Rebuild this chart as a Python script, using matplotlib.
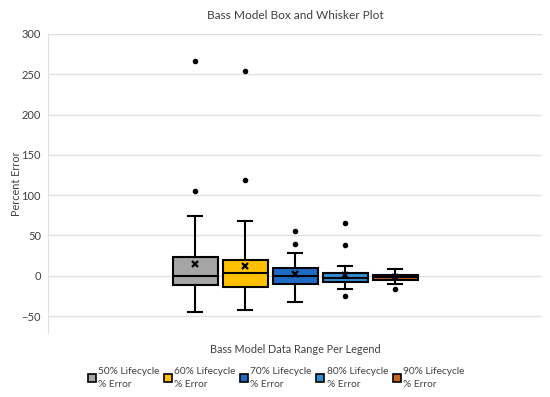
import matplotlib
matplotlib.use("Agg")
import matplotlib.pyplot as plt
from matplotlib.lines import Line2D

plt.rcParams['font.family'] = ['Lato', 'DejaVu Sans']

labels = ["50% Lifecycle\n% Error", "60% Lifecycle\n% Error", "70% Lifecycle\n% Error",
          "80% Lifecycle\n% Error", "90% Lifecycle\n% Error"]
whislo = [-45, -42.5, -33, -16.5, -10]
q1 = [-11.5, -13.6, -10, -8.2, -5.3]
med = [0, 3, -0.4, -2.5, -2]
q3 = [23.5, 19.4, 9.5, 3.7, 1]
whishi = [74.7, 67.7, 28, 11.6, 8.3]
means = [14, 12.4, 1.7, 0.9, -2]
fliers = [[266, 105], [254, 119], [56, 39], [66, 38, -25.5], [-16.5]]
colors = ["#A5A5A5", "#FFC000", "#1F6BC4", "#2E8FD4", "#C8651E"]
yticks = [-50, 0, 50, 100, 150, 200, 250, 300]

fig = plt.figure(figsize=(5.5, 3.97), dpi=100)
ax = fig.add_axes([48/550, 1-333/397, (542-48)/550, (333-34)/397])

stats = []
for i in range(len(labels)):
    stats.append(dict(whislo=whislo[i], q1=q1[i], med=med[i], q3=q3[i],
                      whishi=whishi[i], mean=means[i], fliers=fliers[i]))

pos = list(range(1, len(labels)+1))
bp = ax.bxp(stats, positions=pos, widths=0.9, patch_artist=True, showmeans=True,
            capwidths=0.27,
            boxprops=dict(linewidth=1.5, edgecolor='black'),
            medianprops=dict(color='black', linewidth=1.5),
            whiskerprops=dict(color='black', linewidth=1.5),
            capprops=dict(color='black', linewidth=1.5),
            meanprops=dict(marker='x', markeredgecolor='black', markersize=4.5, markeredgewidth=1.6),
            flierprops=dict(marker='o', markerfacecolor='black', markeredgecolor='black', markersize=3))
for patch, c in zip(bp['boxes'], colors):
    patch.set_facecolor(c)

ax.set_xlim(3-4.94, 3+4.94)
ax.set_ylim(-71, 300)
ax.set_yticks(yticks)
ax.set_xticks([])
ax.yaxis.grid(True, color='#E0E0E0', linewidth=1)
ax.set_axisbelow(True)
for s in ['top', 'right', 'bottom']:
    ax.spines[s].set_visible(False)
ax.spines['left'].set_color('#E0E0E0')
ax.tick_params(axis='y', length=0, labelsize=8, colors='#404040', pad=5)
ax.set_ylabel("Percent Error", fontsize=7.8, color='#404040')
ax.yaxis.set_label_coords(-0.053, 0.5)
ax.set_title("Bass Model Box and Whisker Plot", fontsize=8.6, color='#404040', pad=11)
ax.set_xlabel("Bass Model Data Range Per Legend", fontsize=7.8, color='#404040', labelpad=8)

handles = [Line2D([], [], marker='s', linestyle='none', markerfacecolor=c,
                  markeredgecolor='black', markersize=6, markeredgewidth=1.2) for c in colors]
leg = fig.legend(handles, labels, loc='center', bbox_to_anchor=(276/550, 1-378/397), ncol=5,
                 frameon=False, fontsize=7.3, handlelength=0.8, handletextpad=0.2, columnspacing=0.45,
                 labelcolor='#404040')
for t in leg.get_texts():
    t.set_linespacing(1.45)

fig.savefig("out.png", dpi=100)
